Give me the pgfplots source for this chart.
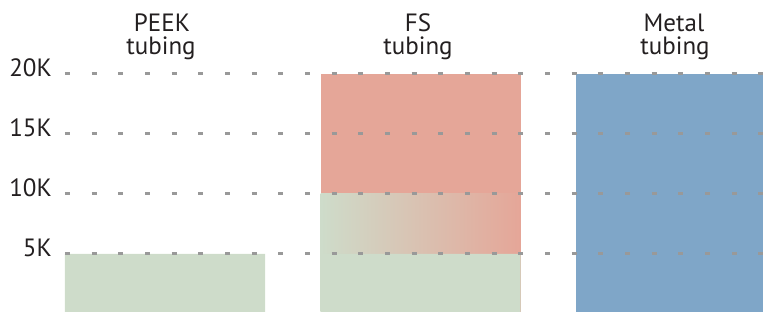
\documentclass[border=0pt]{standalone}
\usepackage{pgfplots}
\pgfplotsset{compat=1.18}
\usepackage{fontspec}
\setmainfont{PT Sans}
\definecolor{cgreen}{RGB}{206,220,202}
\definecolor{cred}{RGB}{229,166,152}
\definecolor{cblue}{RGB}{127,166,200}
\definecolor{cgrid}{RGB}{153,153,153}
\definecolor{ctext}{RGB}{35,31,32}
\newcommand{\lblfont}{\fontsize{25}{23}\selectfont}
\begin{document}
\begin{tikzpicture}
\useasboundingbox (0,0) rectangle (763pt,312pt);
\begin{axis}[
  at={(65pt,-2pt)}, anchor=south west,
  scale only axis, width=698pt, height=240pt,
  xmin=65, xmax=763, ymin=0, ymax=20000,
  clip mode=individual,
  axis on top,
  axis line style={draw=none},
  major tick length=0pt,
  xtick=\empty,
  scaled y ticks=false,
  ytick={5000,10000,15000,20000},
  yticklabels={5K,10K,15K,20K},
  yticklabel style={font=\lblfont, text=ctext, anchor=base east, inner sep=0pt, xshift=-13pt, yshift=-2.5pt},
  ymajorgrids,
  grid style={draw=cgrid, line width=3pt, dash pattern=on 5pt off 21.67pt},
  ybar, bar width=200, bar shift=0pt,
]
\addplot[fill=cred, draw=none] coordinates {(420.5,20000)};
\addplot[left color=cgreen, right color=cred, draw=none] coordinates {(420.5,10000)};
\addplot[fill=cgreen, draw=none] coordinates {(165,5000) (420.5,5000)};
\addplot[fill=cblue, draw=none] coordinates {(676,20000)};
\node[font=\lblfont, text=ctext, anchor=base, inner sep=0pt] at (axis cs:162,23500) {PEEK};
\node[font=\lblfont, text=ctext, anchor=base, inner sep=0pt] at (axis cs:161,21583) {tubing};
\node[font=\lblfont, text=ctext, anchor=base, inner sep=0pt] at (axis cs:418,23500) {FS};
\node[font=\lblfont, text=ctext, anchor=base, inner sep=0pt] at (axis cs:418,21583) {tubing};
\node[font=\lblfont, text=ctext, anchor=base, inner sep=0pt] at (axis cs:674,23500) {Metal};
\node[font=\lblfont, text=ctext, anchor=base, inner sep=0pt] at (axis cs:675,21583) {tubing};
\end{axis}
\end{tikzpicture}
\end{document}
